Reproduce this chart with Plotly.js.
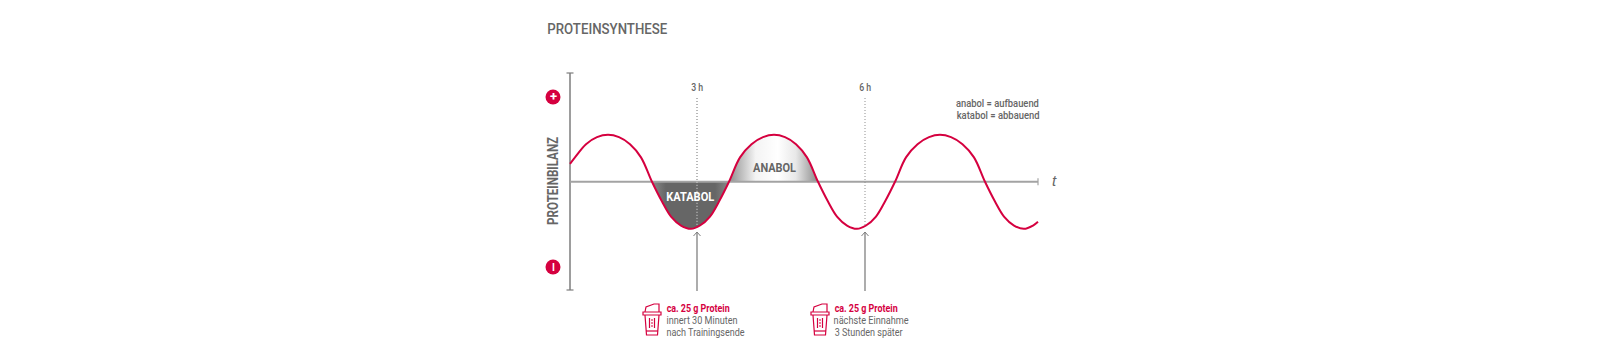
<!DOCTYPE html>
<html><head><meta charset="utf-8">
<script src="https://cdn.plot.ly/plotly-3.0.1.min.js"></script>
<style>html,body{margin:0;padding:0;background:#fff}</style></head>
<body><div id="chart" style="width:1600px;height:356px"></div>
<script>
// Curve: hours vs. protein balance (+1 peak, -1 trough)
const hours = [0.732,0.821,1.018,1.214,1.411,1.607,1.804,2.0,2.196,
  2.375,2.536,2.714,2.893,3.054,3.232,3.393,3.571,
  3.768,3.973,4.179,4.375,4.571,4.768,4.964,5.161,
  5.339,5.5,5.679,5.857,6.018,6.196,6.357,6.536,
  6.732,6.938,7.143,7.339,7.536,7.741,7.946,8.143,
  8.321,8.482,8.661,8.839,9.0,9.089];
const balance = [0.38,0.52,0.8,0.95,1,0.95,0.8,0.52,0,
  -0.42,-0.74,-0.93,-1,-0.93,-0.74,-0.42,0,
  0.52,0.8,0.95,1,0.95,0.8,0.52,0,
  -0.42,-0.74,-0.93,-1,-0.93,-0.74,-0.42,0,
  0.52,0.8,0.95,1,0.95,0.8,0.52,0,
  -0.42,-0.74,-0.93,-1,-0.93,-0.85];
const intakeHours = [3, 6];
const hourLabels = ['3 h', '6 h'];
const intakeHeads = ['ca. 25 g Protein', 'ca. 25 g Protein'];
const intakeLine1 = ['innert 30 Minuten', 'nächste Einnahme'];
const intakeLine2 = ['nach Trainingsende', '3 Stunden später'];

const FONT = 'Roboto,sans-serif';
const GREY = '#666666', RED = '#d5003f';
// pixel geometry: the plot spans the whole page
const L = 570, R = 1038, T = 73, B = 290, Y0 = 181.8, PXH = 56, PXU = 47;
const X = px => 3 + (px - 697) / PXH;
const Y = py => (Y0 - py) / PXU;
const xMin = X(L), xMax = X(R), yMax = Y(T), yMin = Y(B);

const line = (x, y, color, width, dash) => ({x, y, mode:'lines', line:{color, width, dash:dash||'solid'}, hoverinfo:'skip', showlegend:false});
const fillPart = (a, b, scale) => ({x:hours.slice(a, b+1), y:balance.slice(a, b+1), mode:'lines', line:{width:0, shape:'spline', smoothing:1}, fill:'tozeroy',
  fillgradient:{type:'horizontal', colorscale:scale, start:hours[a], stop:hours[b]}, hoverinfo:'skip', showlegend:false});

const DOT = '1px,2px';
const traces = [
  fillPart(8, 16, [[0,'#8a8a8a'],[0.18,'#666666'],[0.82,'#666666'],[1,'#8a8a8a']]),
  fillPart(16, 24, [[0,'#8f8f8f'],[0.3,'#f4f4f4'],[0.55,'#ffffff'],[0.75,'#e8e8e8'],[1,'#8a8a8a']]),
  line([xMin, xMin], [yMin, yMax], '#7d7d7d', 1.5),
  line([xMin, xMax], [0, 0], '#a3a3a3', 2),
  {x:[xMin,xMin], y:[yMin,yMax], mode:'markers', marker:{symbol:'line-ew', size:5, line:{color:'#7d7d7d', width:1.2}}, hoverinfo:'skip', showlegend:false},
  {x:[xMax], y:[0], mode:'markers', marker:{symbol:'line-ns', size:5, line:{color:'#a3a3a3', width:1.2}}, hoverinfo:'skip', showlegend:false},
  line([intakeHours[0], intakeHours[0]], [Y(98), 0], '#707070', 1, DOT),
  line([intakeHours[0], intakeHours[0]], [0, Y(227)], '#e0e0e0', 1, DOT),
  line([intakeHours[1], intakeHours[1]], [Y(98), Y(227)], '#909090', 1, DOT),
  {x:hours, y:balance, mode:'lines', line:{color:RED, width:2, shape:'spline', smoothing:1}, hoverinfo:'skip', showlegend:false},
];
intakeHours.forEach(h => {
  traces.push(line([h, h], [Y(291), Y(232)], '#808080', 1.3));
  traces.push(line([h - 3.5/PXH, h, h + 3.5/PXH], [Y(236), Y(232), Y(236)], '#808080', 1));
});
traces.push({x:[X(553), X(553)], y:[Y(97), Y(267)], mode:'markers', marker:{symbol:'circle', size:15, color:RED}, hoverinfo:'skip', showlegend:false});

const note = (px, py, text, size, color, extra, weight) => Object.assign({xref:'x', yref:'y', x:X(px), y:Y(py), text, showarrow:false,
  font:{family:FONT, size, color, weight:weight||700}, xanchor:'center', yanchor:'middle', borderpad:0}, extra||{});

const annotations = [
  note(607, 28.5, 'PROTEINSYNTHESE', 15.5, GREY, null, 500),
  note(553, 181, 'PROTEINBILANZ', 14, GREY, {textangle:-90}),
  note(553, 96.5, '+', 13, '#fff'),
  note(553, 267, 'I', 10, '#fff'),
  note(690, 196, 'KATABOL', 12.5, '#fff'),
  note(774, 167, 'ANABOL', 12.5, GREY),
  note(997.5, 103, 'anabol = aufbauend', 10.5, GREY, null, 500),
  note(997.5, 115, 'katabol = abbauend', 10.5, GREY, null, 500),
  {xref:'x', yref:'y', x:X(1054), y:Y(180), text:'<i>t</i>', showarrow:false, font:{family:'"Liberation Sans",sans-serif', size:15, color:GREY}},
];
const headCentres = [697.5, 865.5], line1Centres = [701.5, 871.5], line2Centres = [705, 869];
intakeHours.forEach((h, i) => {
  annotations.push(note(697 + (h - 3) * PXH, 87, hourLabels[i], 10.5, GREY, null, 500));
  annotations.push(note(headCentres[i], 308, intakeHeads[i], 10.5, RED));
  annotations.push(note(line1Centres[i], 320, intakeLine1[i], 10.5, GREY, null, 400));
  annotations.push(note(line2Centres[i], 332, intakeLine2[i], 10.5, GREY, null, 400));
});

// shaker icon, pixel offsets around an anchor (y written downward, flipped below), 45px left of each intake time
const iconPaths = [
  'M-9,-8 L9,-8 L9,-5 L-9,-5 Z',
  'M-7,-8 L-6,-13 L2,-16 L7,-16 L7,-8',
  'M-7,-5 L-5.5,15 L5.5,15 L7,-5',
  'M-6,11 L6,11',
  'M-2.5,-2 L-2.5,8 M2.5,-2 L2.5,8 M-1,0 L1,0 M-1,3 L1,3 M-1,6 L1,6'
];
const shapes = [];
intakeHours.forEach(h => iconPaths.forEach(p => {
  const path = p.replace(/(-?[\d.]+),(-?[\d.]+)/g, (m, a, b) => a + ',' + (-parseFloat(b)));
  shapes.push({type:'path', xref:'x', yref:'y', xsizemode:'pixel', ysizemode:'pixel', xanchor:h - 45/PXH, yanchor:Y(320), path, line:{color:RED, width:1.2}, layer:'above'});
}));

// the reference face is condensed: fit each text to the width it has in the picture
const textWidths = {'PROTEINSYNTHESE':120,'PROTEINBILANZ':88,'KATABOL':48,'ANABOL':43,'anabol = aufbauend':83,'katabol = abbauend':83,'3 h':12,'6 h':12,
  'ca. 25 g Protein':63,'innert 30 Minuten':71,'nach Trainingsende':78,'nächste Einnahme':75,'3 Stunden später':68};

Plotly.newPlot('chart', traces, {
  width:1600, height:356, paper_bgcolor:'#fff', plot_bgcolor:'#fff', showlegend:false,
  margin:{l:0, r:0, t:0, b:0, pad:0},
  xaxis:{range:[X(0), X(1600)], visible:false, fixedrange:true},
  yaxis:{range:[Y(356), Y(0)], visible:false, fixedrange:true},
  annotations, shapes
}, {displayModeBar:false, staticPlot:true}).then(() => {
  document.querySelectorAll('#chart .annotation-text').forEach(el => {
    const w = textWidths[el.textContent];
    if (w) { el.setAttribute('textLength', w); el.setAttribute('lengthAdjust', 'spacingAndGlyphs'); }
  });
});
</script></body></html>
